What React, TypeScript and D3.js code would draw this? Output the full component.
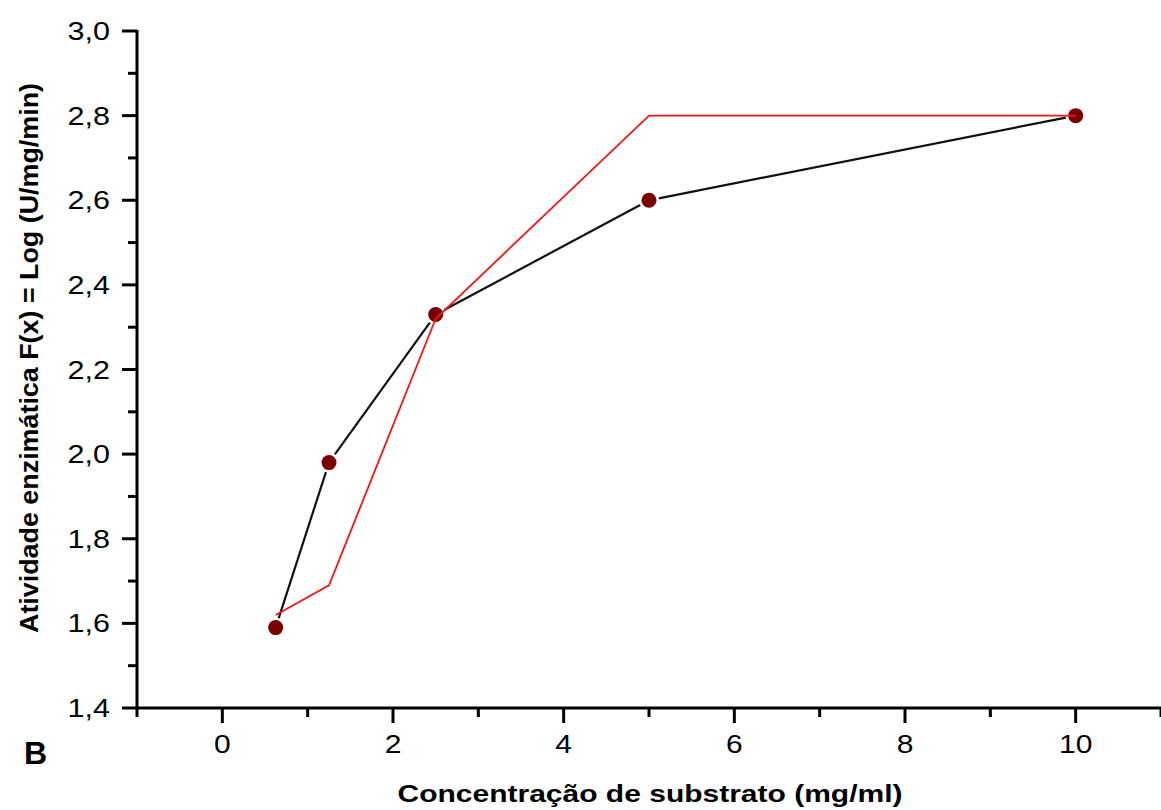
import React from "react";
import * as d3 from "d3";

// substrate concentration (mg/ml)
const concentrations = [0.625, 1.25, 2.5, 5, 10];
// measured activity, log(U/mg/min)
const measured = [1.59, 1.98, 2.33, 2.6, 2.8];
// fitted curve (red)
const fitted = [1.62, 1.69, 2.32, 2.8, 2.8];

const xMajorTicks = [0, 2, 4, 6, 8, 10];
const xMinorTicks = [-1, 1, 3, 5, 7, 9, 11];
const yMajorTicks = [1.4, 1.6, 1.8, 2.0, 2.2, 2.4, 2.6, 2.8, 3.0];
const yMinorTicks = [1.5, 1.7, 1.9, 2.1, 2.3, 2.5, 2.7, 2.9];

const xTitle = "Concentração de substrato (mg/ml)";
const yTitle = "Atividade enzimática F(x) = Log (U/mg/min)";
const panelLabel = "B";

const W = 1161;
const H = 810;
const left = 137;
const top = 31;
const bottom = 708;

const App = () => {
  const x = d3.scaleLinear().domain([-1, 11]).range([left, W]);
  const y = d3.scaleLinear().domain([1.4, 3.0]).range([bottom, top]);
  const fmt = (v: number) => d3.format(".1f")(v).replace(".", ",");

  const pts = concentrations.map((c, i) => [x(c), y(measured[i])] as [number, number]);
  const gap = 10;
  const segs = d3.pairs(pts).map(([a, b]) => {
    const dx = b[0] - a[0];
    const dy = b[1] - a[1];
    const len = Math.hypot(dx, dy);
    const ux = dx / len;
    const uy = dy / len;
    return [a[0] + ux * gap, a[1] + uy * gap, b[0] - ux * gap, b[1] - uy * gap];
  });

  const redLine = d3
    .line<number>()
    .x((_, i) => x(concentrations[i]))
    .y((d) => y(d));

  const font = "'Liberation Sans', Arial, sans-serif";

  return (
    <svg
      width={W}
      height={H}
      style={{ position: "absolute", left: 0, top: 0, background: "#fff" }}
      fontFamily={font}
    >
      <rect width={W} height={H} fill="#fff" />

      {/* black data line with gaps near markers */}
      {segs.map((s, i) => (
        <line key={i} x1={s[0]} y1={s[1]} x2={s[2]} y2={s[3]} stroke="#111" strokeWidth={2.2} />
      ))}

      {pts.map((p, i) => (
        <circle key={i} cx={p[0]} cy={p[1]} r={7.5} fill="#7a0000" />
      ))}

      <path d={redLine(fitted) || ""} fill="none" stroke="#f01818" strokeWidth={1.8} />

      {/* axes */}
      <line x1={left} y1={top - 1} x2={left} y2={bottom + 1.5} stroke="#000" strokeWidth={3} />
      <line x1={left - 1.5} y1={bottom} x2={W} y2={bottom} stroke="#000" strokeWidth={3} />

      {yMajorTicks.map((t) => (
        <g key={t}>
          <line x1={left - 15} x2={left} y1={y(t)} y2={y(t)} stroke="#000" strokeWidth={3} />
          <text
            transform={`translate(110,${y(t) + 9}) scale(1.22,1)`}
            textAnchor="end"
            fontSize={25}
            fill="#000"
          >
            {fmt(t)}
          </text>
        </g>
      ))}
      {yMinorTicks.map((t) => (
        <line key={t} x1={left - 9} x2={left} y1={y(t)} y2={y(t)} stroke="#000" strokeWidth={3} />
      ))}

      {xMajorTicks.map((t) => (
        <g key={t}>
          <line x1={x(t)} x2={x(t)} y1={bottom} y2={bottom + 15} stroke="#000" strokeWidth={3} />
          <text
            transform={`translate(${x(t)},${bottom + 45}) scale(1.2,1)`}
            textAnchor="middle"
            fontSize={25}
            fill="#000"
          >
            {t}
          </text>
        </g>
      ))}
      {xMinorTicks.map((t) => (
        <line key={t} x1={x(t)} x2={x(t)} y1={bottom} y2={bottom + 9} stroke="#000" strokeWidth={3} />
      ))}

      <text
        x={650}
        y={802}
        textAnchor="middle"
        fontSize={24}
        fontWeight="bold"
        textLength={505}
        lengthAdjust="spacingAndGlyphs"
        fill="#000"
      >
        {xTitle}
      </text>

      <text
        transform="translate(38,358) rotate(-90)"
        textAnchor="middle"
        fontSize={25}
        fontWeight="bold"
        textLength={550}
        lengthAdjust="spacingAndGlyphs"
        fill="#000"
      >
        {yTitle}
      </text>

      <text x={24} y={764} fontSize={32} fontWeight="bold" fill="#000">
        {panelLabel}
      </text>
    </svg>
  );
};

export default App;
